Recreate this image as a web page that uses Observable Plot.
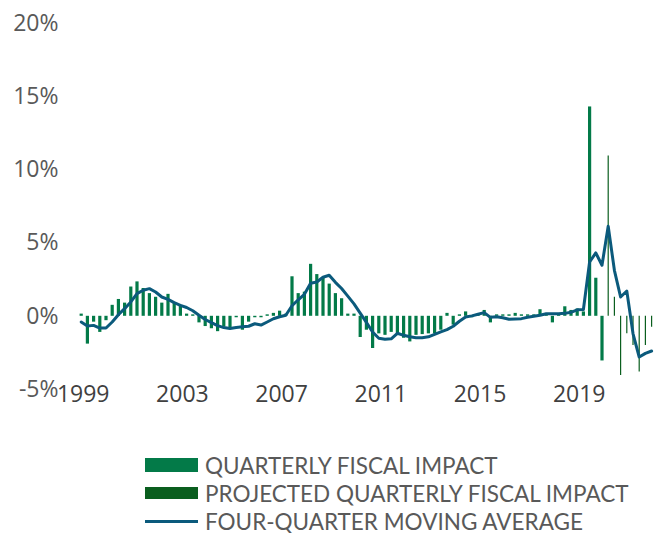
<!DOCTYPE html>
<html><head><meta charset="utf-8">
<script src="https://cdn.jsdelivr.net/npm/d3@7"></script>
<script src="https://cdn.jsdelivr.net/npm/@observablehq/plot@0.6"></script>
<style>
body{margin:0;background:#fff;font-family:"Open Sans",sans-serif;overflow:hidden;}
#legend{margin-left:145px;margin-top:37px;font-family:Lato,"Open Sans",sans-serif;}
.row{display:flex;align-items:center;height:28px;font-size:22.5px;line-height:27px;color:#595959;white-space:nowrap;}
.sw{width:53px;margin-right:7px;flex:none;}
</style></head><body><div id="chart"></div><div id="legend"></div>
<script>
const startYear = 1999; // first quarter: 1999 Q1
const quarterlyImpact = [
  0.15,-1.9,-0.4,-1.1,-0.3,0.75,1.15,0.9,
  2.0,2.35,1.9,1.55,1.3,0.9,1.5,0.9,
  0.75,0.15,0.1,-0.45,-0.7,-0.85,-1.05,-0.7,
  -0.85,-0.1,-0.95,-0.4,-0.1,-0.1,0.1,0.2,
  0.35,0.15,2.7,1.55,1.65,3.55,2.85,2.6,
  2.2,1.55,1.2,0.15,0.15,-1.45,-0.95,-2.2,
  -1.2,-1.3,-1.1,-1.25,-1.5,-1.75,-1.3,-1.25,
  -1.2,-1.2,-0.95,0.2,-0.6,0.1,0.3,-0.1,
  0.1,0.4,-0.45,0.1,0.1,0.1,0.2,0.1,
  0.1,0.1,0.45,0.1,-0.45,0.1,0.65,0.4,
  0.5,0.3,14.3,2.6,-3.05
];
const projectedImpact = [10.95,1.3,-4.05,-1.2,-2.0,-3.8,-2.0,-0.75];
const movingAverage = [
  -0.39,-0.66,-0.62,-0.8,-0.8,-0.39,0.11,0.52,
  0.98,1.55,1.78,1.89,1.66,1.32,1.16,0.93,
  0.75,0.6,0.38,0.07,-0.22,-0.43,-0.64,-0.77,
  -0.84,-0.77,-0.72,-0.68,-0.51,-0.6,-0.39,-0.17,
  -0.03,0.07,0.72,1.13,1.5,2.26,2.34,2.67,
  2.8,2.32,1.9,1.38,0.85,0.22,-0.41,-1.07,
  -1.5,-1.57,-1.54,-1.16,-1.3,-1.4,-1.46,-1.46,
  -1.4,-1.23,-1.06,-0.91,-0.68,-0.34,-0.05,0.03,
  0.14,0.25,-0.07,-0.03,-0.1,-0.2,-0.18,-0.16,
  -0.07,0,0.07,0.17,0.18,0.18,0.2,0.27,
  0.44,0.46,3.71,4.33,3.49,6.15,3.14,1.32,
  1.73,-1.18,-2.78,-2.53,-2.37
];
const yTicks = [-5,0,5,10,15,20];
const xTicks = [1999,2003,2007,2011,2015,2019];
const seriesLabels = ["QUARTERLY FISCAL IMPACT","PROJECTED QUARTERLY FISCAL IMPACT","FOUR-QUARTER MOVING AVERAGE"];
const colors = ["#037a48","#0a5e1e","#0b5a7c"];

const qt = i => startYear + i / 4;
const actual = quarterlyImpact.map((v,i)=>({t:qt(i), v}));
const projected = projectedImpact.map((v,i)=>({t:qt(quarterlyImpact.length+i), v}));
const avg = movingAverage.map((v,i)=>({t:qt(i), v}));

const chart = Plot.plot({
  width:660, height:414,
  marginLeft:80.7, marginRight:8.9, marginTop:23, marginBottom:25,
  style:{fontFamily:"'Open Sans',sans-serif", fontSize:"23px", color:"#595959", background:"#fff", overflow:"visible"},
  x:{domain:[1999,2022]},
  y:{domain:[-5,20]},
  marks:[
    Plot.axisY({ticks:yTicks, tickSize:0, tickPadding:22.7, tickFormat:d=>`${d}%`, label:null, fill:"#595959"}),
    Plot.axisX({ticks:xTicks, tickSize:0, tickPadding:-4, dx:2, tickFormat:d=>String(d), label:null, fill:"#404040"}),
    Plot.ruleX(actual,{x:"t", y1:0, y2:"v", stroke:colors[0], strokeWidth:3.2}),
    Plot.ruleX(projected,{x:"t", y1:0, y2:"v", stroke:colors[1], strokeWidth:1.2}),
    Plot.line(avg,{x:"t", y:"v", stroke:colors[2], strokeWidth:3, strokeLinejoin:"round"})
  ]
});
document.getElementById("chart").appendChild(chart);

const lg = document.getElementById("legend");
seriesLabels.forEach((s,i)=>{
  const r = document.createElement("div"); r.className="row";
  const sw = document.createElement("div"); sw.className="sw";
  sw.style.background = colors[i];
  sw.style.height = i===0 ? "14px" : i===1 ? "12px" : "3px";
  const tx = document.createElement("span"); tx.textContent = s;
  r.appendChild(sw); r.appendChild(tx); lg.appendChild(r);
});
</script></body></html>
